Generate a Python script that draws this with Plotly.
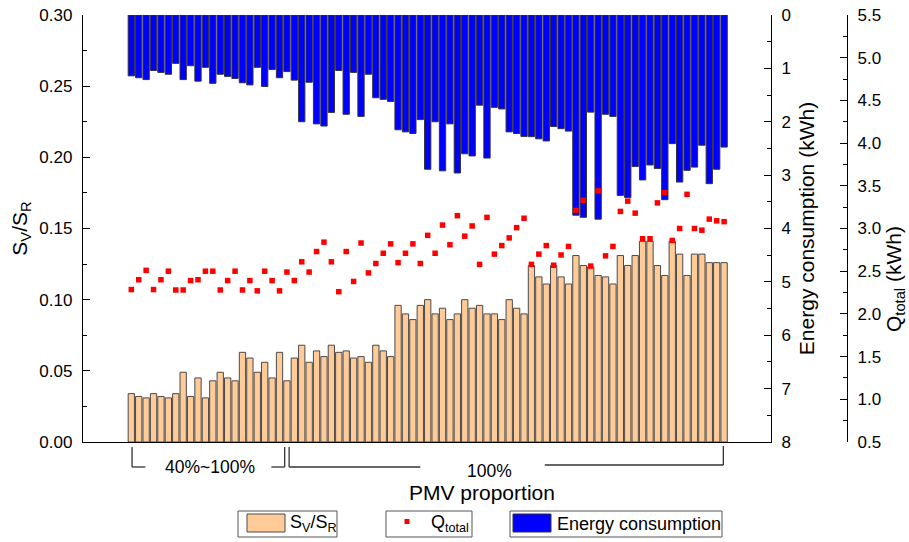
import plotly.graph_objects as go

# ---------------- data ----------------
samples = list(range(1, 82))

sv_sr = [0.034, 0.032, 0.031, 0.034, 0.032, 0.031, 0.034, 0.049, 0.032, 0.045,
         0.031, 0.043, 0.049, 0.045, 0.043, 0.063, 0.059, 0.049, 0.056, 0.045,
         0.063, 0.043, 0.059, 0.068, 0.056, 0.064, 0.060, 0.068, 0.063, 0.064,
         0.059, 0.060, 0.056, 0.068, 0.064, 0.060, 0.096, 0.090, 0.086, 0.096,
         0.100, 0.090, 0.094, 0.086, 0.090, 0.100, 0.094, 0.096, 0.090, 0.090,
         0.086, 0.100, 0.094, 0.090, 0.124, 0.116, 0.111, 0.124, 0.116, 0.111,
         0.131, 0.124, 0.123, 0.117, 0.116, 0.111, 0.131, 0.124, 0.131, 0.141,
         0.141, 0.124, 0.117, 0.141, 0.132, 0.117, 0.132, 0.132, 0.126, 0.126,
         0.126]

energy = [1.14, 1.175, 1.21, 1.04, 1.075, 1.11, 0.906, 1.21, 0.95, 1.24,
          0.98, 1.28, 1.11, 1.15, 1.19, 1.27, 1.31, 0.98, 1.34, 1.02,
          1.175, 1.06, 1.22, 2.0, 1.26, 2.04, 2.08, 1.825, 1.04, 1.86,
          1.075, 1.90, 1.11, 1.55, 1.58, 1.62, 2.15, 2.19, 2.22, 1.96,
          2.89, 2.0, 2.92, 2.04, 2.96, 2.60, 2.64, 1.69, 2.68, 1.73,
          1.76, 2.19, 2.22, 2.275, 2.28, 2.32, 2.36, 2.09, 2.13, 2.175,
          3.75, 3.79, 1.82, 3.825, 1.86, 1.90, 3.38, 3.42, 2.84, 3.09,
          2.81, 2.875, 3.46, 2.41, 3.13, 2.91, 2.85, 2.44, 3.16, 2.89,
          2.475]

q_total = [2.285, 2.40, 2.51, 2.285, 2.40, 2.50, 2.28, 2.28, 2.39, 2.40,
           2.50, 2.50, 2.28, 2.39, 2.50, 2.28, 2.39, 2.27, 2.50, 2.39,
           2.27, 2.49, 2.39, 2.61, 2.49, 2.73, 2.84, 2.61, 2.26, 2.73,
           2.38, 2.83, 2.48, 2.59, 2.71, 2.82, 2.60, 2.71, 2.82, 2.59,
           2.92, 2.71, 3.04, 2.81, 3.15, 2.91, 3.03, 2.58, 3.13, 2.70,
           2.80, 2.89, 3.01, 3.12, 2.58, 2.70, 2.80, 2.57, 2.69, 2.79,
           3.21, 3.33, 2.56, 3.44, 2.68, 2.79, 3.20, 3.32, 3.18, 2.88,
           2.88, 3.30, 3.42, 2.86, 3.00, 3.40, 3.00, 2.98, 3.11, 3.09,
           3.08]

group_labels = ["40%~100%", "100%"]
series_names = ["S<sub>V</sub>/S<sub>R</sub>", "Q<sub>total</sub>", "Energy consumption"]

# ---------------- styling ----------------
FONT = "Liberation Sans, Arial, sans-serif"
ORANGE, ORANGE_EDGE = "#FFCC99", "#4a4a4a"
BLUE, BLUE_EDGE = "#0000FF", "#333333"
RED = "#FF0000"

fig = go.Figure()

fig.add_trace(go.Bar(
    x=samples, y=sv_sr, name=series_names[0],
    marker=dict(color=ORANGE, line=dict(color=ORANGE_EDGE, width=1)),
    width=0.85, yaxis="y", showlegend=False))

fig.add_trace(go.Bar(
    x=samples, y=energy, name=series_names[2],
    marker=dict(color=BLUE, line=dict(color=BLUE_EDGE, width=1)),
    width=0.85, yaxis="y2", showlegend=False))

fig.add_trace(go.Scatter(
    x=samples, y=q_total, name=series_names[1], mode="markers",
    marker=dict(symbol="square", size=5.5, color=RED),
    yaxis="y3", showlegend=False))

tickfont = dict(family=FONT, size=17, color="black")
titlefont = dict(family=FONT, size=21, color="black")
xdom_end = 688 / 764

fig.update_layout(
    width=909, height=542,
    margin=dict(l=83, r=62, t=15, b=100, autoexpand=False),
    paper_bgcolor="white", plot_bgcolor="white",
    barmode="overlay", showlegend=False,
    font=dict(family=FONT, color="black"),
    xaxis=dict(domain=[0, xdom_end], range=[-5.52, 87.33],
               showline=True, linecolor="black", linewidth=1.3,
               showticklabels=False, ticks="", showgrid=False, zeroline=False),
    yaxis=dict(range=[0, 0.30], dtick=0.05, tickformat=".2f",
               ticks="inside", ticklen=7, tickwidth=1.2, tickcolor="black",
               minor=dict(ticks="inside", dtick=0.025, ticklen=4, tickcolor="black"),
               showline=True, linecolor="black", linewidth=1.3,
               showgrid=False, zeroline=False, tickfont=tickfont,
               ticklabelstandoff=6,
               title=dict(text=series_names[0], font=titlefont, standoff=6)),
    yaxis2=dict(overlaying="y", side="right", anchor="x",
                range=[8, 0], dtick=1,
                ticks="inside", ticklen=7, tickwidth=1.2, tickcolor="black",
                minor=dict(ticks="inside", dtick=0.5, ticklen=4, tickcolor="black"),
                showline=True, linecolor="black", linewidth=1.3,
                showgrid=False, zeroline=False, tickfont=tickfont,
                ticklabelstandoff=6,
                title=dict(text="Energy consumption (kWh)", font=titlefont, standoff=9)),
    yaxis3=dict(overlaying="y", side="right", anchor="free", position=1.0,
                range=[0.5, 5.5], dtick=0.5, tickformat=".1f",
                ticks="inside", ticklen=7, tickwidth=1.2, tickcolor="black",
                minor=dict(ticks="inside", dtick=0.25, ticklen=4, tickcolor="black"),
                showline=True, linecolor="black", linewidth=1.3,
                showgrid=False, zeroline=False, tickfont=tickfont,
                ticklabelstandoff=6),
)

# pixel -> paper helpers (plot area: x 83..847, y 15..442)
def xp(px):
    return (px - 83) / 764

def yp(py):
    return (442 - py) / 427

# Q_total axis title (placed as in the reference, off-centre)
fig.add_annotation(text="Q<sub>total</sub> (kWh)", textangle=-90,
                   xref="paper", yref="paper", x=xp(895), y=yp(279),
                   showarrow=False, font=titlefont, xanchor="center", yanchor="middle")

# x-axis title
fig.add_annotation(text="PMV proportion", xref="paper", yref="paper",
                   x=xp(482), y=yp(493), showarrow=False,
                   font=titlefont, xanchor="center", yanchor="middle")

# group brackets under the x axis
line = dict(color="#333333", width=1.3)
b1_l, b1_r = 1.1, 21.7
b2_l, b2_r = 22.3, 80.9
top, bot = yp(447), yp(467)
segs = [
    (b1_l, top, b1_l, bot), (b1_l, bot, 2.9, bot),
    (19.9, bot, b1_r, bot), (b1_r, bot, b1_r, top),
    (b2_l, top, b2_l, bot), (b2_l, bot, 40.0, bot),
    (56.8, yp(465), b2_r, yp(465)), (b2_r, yp(465), b2_r, yp(446)),
]
for x0, y0, x1, y1 in segs:
    fig.add_shape(type="line", xref="x", yref="paper", x0=x0, y0=y0, x1=x1, y1=y1,
                  line=line)

brfont = dict(family=FONT, size=17.5, color="black")
fig.add_annotation(text=group_labels[0], xref="x", yref="paper", x=11.6, y=yp(467),
                   showarrow=False, font=brfont, xanchor="center", yanchor="middle")
fig.add_annotation(text=group_labels[1], xref="x", yref="paper", x=49.4, y=yp(471),
                   showarrow=False, font=brfont, xanchor="center", yanchor="middle")

# ---------------- legend (three separate framed boxes, as in the reference) ----------------
legfont = dict(family=FONT, size=18, color="black")
box_top, box_bot = 511, 537
legend_boxes = [(238, 337), (386, 472), (510, 722)]
for x0, x1 in legend_boxes:
    fig.add_shape(type="rect", xref="paper", yref="paper",
                  x0=xp(x0), x1=xp(x1), y0=yp(box_bot), y1=yp(box_top),
                  line=dict(color="#555555", width=1), fillcolor="white")

# swatches
fig.add_shape(type="rect", xref="paper", yref="paper",
              x0=xp(247), x1=xp(285), y0=yp(532), y1=yp(514),
              line=dict(color=ORANGE_EDGE, width=1), fillcolor=ORANGE)
fig.add_shape(type="rect", xref="paper", yref="paper",
              x0=xp(404.5), x1=xp(409.5), y0=yp(524), y1=yp(519),
              line=dict(width=0), fillcolor=RED)
fig.add_shape(type="rect", xref="paper", yref="paper",
              x0=xp(513), x1=xp(551), y0=yp(532), y1=yp(514),
              line=dict(color=BLUE_EDGE, width=1), fillcolor=BLUE)

# legend labels
for text, px in [(series_names[0], 288), (series_names[1], 429), (series_names[2], 555)]:
    fig.add_annotation(text=text, xref="paper", yref="paper", x=xp(px), y=yp(523.5),
                       showarrow=False, font=legfont, xanchor="left", yanchor="middle")

fig.write_html("out.html")
